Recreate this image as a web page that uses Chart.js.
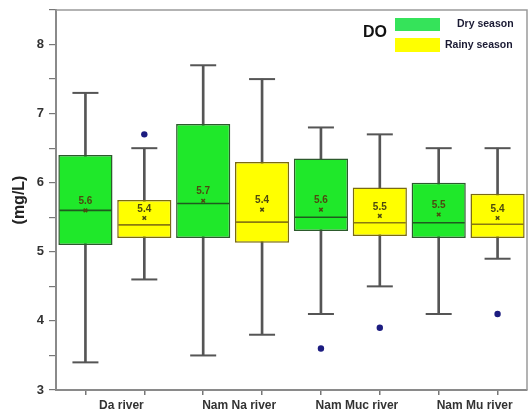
<!DOCTYPE html>
<html>
<head>
<meta charset="utf-8">
<script src="https://cdn.jsdelivr.net/npm/chart.js@4.4.0/dist/chart.umd.min.js"></script>
<style>
  html, body { margin: 0; padding: 0; background: #fff; }
  #wrap { width: 529px; height: 416px; }
</style>
</head>
<body>
<div id="wrap"><canvas id="c" width="529" height="416"></canvas></div>
<script>
// rivers (each has a dry and a rainy box)
const rivers = ['Da river', 'Nam Na river', 'Nam Muc river', 'Nam Mu river'];

// dry season
const dryMin    = [3.4, 3.5, 4.1, 4.1];
const dryQ1     = [5.1, 5.2, 5.3, 5.2];
const dryMedian = [5.6, 5.7, 5.5, 5.42];
const dryQ3     = [6.4, 6.85, 6.35, 6.0];
const dryMax    = [7.3, 7.7, 6.8, 6.5];
const dryMean   = [5.6, 5.74, 5.61, 5.54];
const dryMeanLabel = ['5.6', '5.7', '5.6', '5.5'];
const dryOutliers  = [null, null, 3.6, null];

// rainy season
const rainyMin    = [4.6, 3.8, 4.5, 4.9];
const rainyQ1     = [5.2, 5.13, 5.23, 5.2];
const rainyMedian = [5.39, 5.43, 5.42, 5.4];
const rainyQ3     = [5.75, 6.3, 5.93, 5.84];
const rainyMax    = [6.5, 7.5, 6.7, 6.5];
const rainyMean   = [5.49, 5.61, 5.52, 5.49];
const rainyMeanLabel = ['5.4', '5.4', '5.5', '5.4'];
const rainyOutliers  = [6.7, null, 3.9, 4.1];

const yTicksMin = 3;
const yTicksMax = 8.5;

// interleave dry / rainy -> 8 boxes
function mix(a, b) {
  const out = [];
  a.forEach((v, i) => { out.push(v); out.push(b[i]); });
  return out;
}

const boxLabels = mix(rivers, rivers.map(() => ''));
const GREEN = '#1fe82a';
const YELLOW = '#ffff00';
const fills = boxLabels.map((_, i) => i % 2 === 0 ? GREEN : YELLOW);
const borders = boxLabels.map((_, i) => i % 2 === 0 ? '#2c5a2c' : '#7a6a12');
const medianColors = boxLabels.map((_, i) => i % 2 === 0 ? '#1f5a1f' : '#8a7a10');

const q3s = mix(dryQ3, rainyQ3);
const maxs = mix(dryMax, rainyMax);
const boxes = mix(dryQ1, rainyQ1).map((q1, i) => [q1, q3s[i]]);
const stems = mix(dryMin, rainyMin).map((lo, i) => [lo, maxs[i]]);
const means = mix(dryMean, rainyMean);
const meanLabels = mix(dryMeanLabel, rainyMeanLabel);

const FONT = "'Liberation Sans', Arial, sans-serif";

function noPad(s) {
  s.paddingTop = 0; s.paddingBottom = 0; s.paddingLeft = 0; s.paddingRight = 0;
}

// 图例和均值标签
const extras = {
  id: 'extras',
  afterDatasetsDraw(chart) {
    const { ctx, chartArea, scales } = chart;
    ctx.save();
    // frame top / right
    ctx.strokeStyle = '#9a9a9a';
    ctx.lineWidth = 1.5;
    ctx.beginPath();
    ctx.moveTo(chartArea.left, chartArea.top);
    ctx.lineTo(chartArea.right, chartArea.top);
    ctx.lineTo(chartArea.right, chartArea.bottom);
    ctx.stroke();

    // mean labels
    ctx.fillStyle = '#4d4a10';
    ctx.font = 'bold 10px ' + FONT;
    ctx.textAlign = 'center';
    ctx.textBaseline = 'middle';
    means.forEach((m, i) => {
      const x = scales.x.getPixelForValue(i);
      const y = scales.y.getPixelForValue(m) - 9;
      ctx.fillText(meanLabels[i], x, y);
    });

    // legend
    ctx.fillStyle = '#111';
    ctx.font = 'bold 16px ' + FONT;
    ctx.fillText('DO', 375, 33);
    ctx.fillStyle = '#35e35a';
    ctx.fillRect(395, 18, 45, 13);
    ctx.fillStyle = YELLOW;
    ctx.fillRect(395, 38, 45, 14);
    ctx.fillStyle = '#1a1a33';
    ctx.font = 'bold 10.5px ' + FONT;
    ctx.textAlign = 'left';
    ctx.fillText('Dry season', 457, 24);
    ctx.fillText('Rainy season', 445, 45);
    ctx.restore();
  }
};

new Chart(document.getElementById('c'), {
  type: 'bar',
  data: {
    labels: boxLabels,
    datasets: [
      {
        type: 'bar',
        data: stems,
        grouped: false,
        barThickness: 2,
        backgroundColor: '#555',
        order: 6
      },
      {
        type: 'bar',
        data: boxes,
        grouped: false,
        categoryPercentage: 1,
        barPercentage: 0.92,
        backgroundColor: fills,
        borderColor: borders,
        borderWidth: 1.5,
        borderSkipped: false,
        order: 5
      },
      {
        type: 'line',
        data: mix(dryMedian, rainyMedian),
        showLine: false,
        pointStyle: 'line',
        pointRadius: 26,
        pointBorderWidth: 1.6,
        pointBorderColor: medianColors,
        order: 4
      },
      {
        type: 'line',
        data: mix(dryMin, rainyMin),
        showLine: false,
        pointStyle: 'line',
        pointRadius: 13,
        pointBorderWidth: 2,
        pointBorderColor: '#555',
        order: 3
      },
      {
        type: 'line',
        data: maxs,
        showLine: false,
        pointStyle: 'line',
        pointRadius: 13,
        pointBorderWidth: 2,
        pointBorderColor: '#555',
        order: 3
      },
      {
        type: 'line',
        data: means,
        showLine: false,
        pointStyle: 'crossRot',
        pointRadius: 2.5,
        pointBorderWidth: 1.5,
        pointBorderColor: '#4d4a10',
        order: 2
      },
      {
        type: 'line',
        data: mix(dryOutliers, rainyOutliers),
        showLine: false,
        pointStyle: 'circle',
        pointRadius: 3.2,
        pointBackgroundColor: '#1c1c80',
        pointBorderColor: '#1c1c80',
        pointBorderWidth: 0,
        order: 1
      }
    ]
  },
  options: {
    responsive: false,
    animation: false,
    events: [],
    layout: { autoPadding: false, padding: { top: 10, right: 2, left: 0, bottom: 0 } },
    plugins: {
      legend: { display: false },
      tooltip: { enabled: false }
    },
    scales: {
      x: {
        type: 'category',
        position: 'bottom',
        offset: true,
        grid: { display: true, drawOnChartArea: false, offset: false, tickLength: 5, color: '#777', lineWidth: 1.5 },
        border: { display: true, color: '#8a8a8a', width: 2 },
        ticks: {
          autoSkip: false,
          maxRotation: 0,
          padding: 3,
          labelOffset: 36,
          color: '#333',
          font: { family: FONT, size: 12, weight: 'bold' }
        },
        afterFit(s) { s.height = 26; noPad(s); }
      },
      y: {
        min: yTicksMin,
        max: yTicksMax,
        grid: { display: true, drawOnChartArea: false, tickLength: 7, color: '#777', lineWidth: 1.2 },
        border: { display: true, color: '#8a8a8a', width: 2 },
        ticks: {
          stepSize: 0.5,
          padding: 5,
          color: '#333',
          font: { family: FONT, size: 13, weight: 'bold' },
          callback: v => Number.isInteger(v) ? v : ''
        },
        title: {
          display: true,
          text: '(mg/L)',
          color: '#222',
          font: { family: FONT, size: 16, weight: 'bold' },
          padding: { top: 10, bottom: 0 }
        },
        afterFit(s) { s.width = 56; noPad(s); }
      }
    }
  },
  plugins: [extras]
});
</script>
</body>
</html>
